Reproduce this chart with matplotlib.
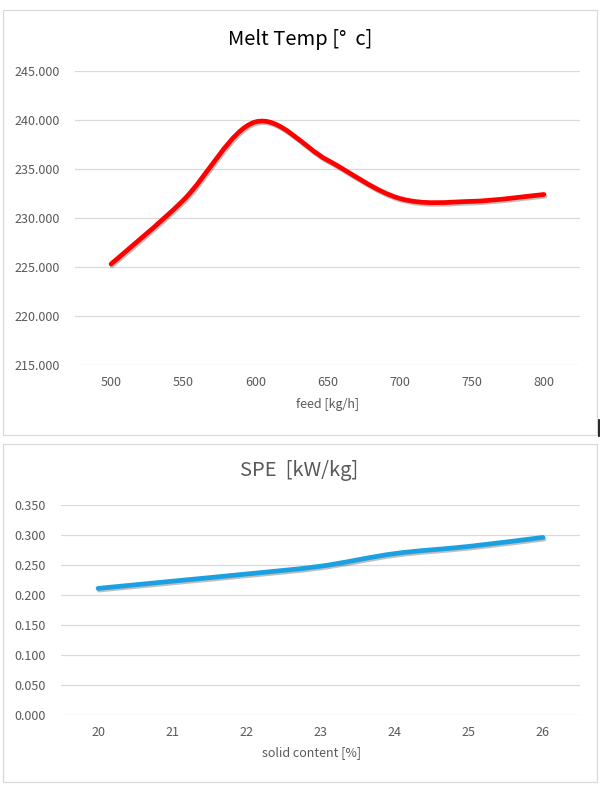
import matplotlib
matplotlib.use('Agg')
import matplotlib.pyplot as plt
import numpy as np
from matplotlib.path import Path
from matplotlib.patches import PathPatch, Rectangle
import matplotlib.patheffects as pe

plt.rcParams['font.family'] = ['Noto Sans CJK SC', 'DejaVu Sans']

# ---- data ----
feed_labels = ['500', '550', '600', '650', '700', '750', '800']
melt_temp = [225.3, 231.8, 239.8, 235.9, 232.0, 231.7, 232.4]
temp_ticks = [215, 220, 225, 230, 235, 240, 245]

solid_labels = ['20', '21', '22', '23', '24', '25', '26']
spe = [0.211, 0.223, 0.235, 0.248, 0.269, 0.281, 0.296]
spe_ticks = [0.0, 0.05, 0.10, 0.15, 0.20, 0.25, 0.30, 0.35]

GRAY = '#595959'
GRID = '#D9D9D9'
W, H = 600, 790


def smooth_path(ys):
    """Excel-like smoothed line: cubic Bezier through the data points."""
    xs = np.arange(len(ys), dtype=float)
    pts = np.column_stack([xs, np.asarray(ys, dtype=float)])
    n = len(pts)
    verts = [pts[0]]
    codes = [Path.MOVETO]
    for i in range(n - 1):
        p0 = pts[i - 1] if i > 0 else pts[i]
        p1 = pts[i]
        p2 = pts[i + 1]
        p3 = pts[i + 2] if i + 2 < n else pts[i + 1]
        c1 = p1 + (p2 - p0) / 6.0
        c2 = p2 - (p3 - p1) / 6.0
        verts += [c1, c2, p2]
        codes += [Path.CURVE4] * 3
    return Path(verts, codes)


def fx(px):
    return px / W


def fy(py):
    return 1 - py / H


fig = plt.figure(figsize=(6, 7.9), dpi=100)
fig.patch.set_facecolor('white')

# panel borders
fig.add_artist(Rectangle((fx(3), fy(435)), fx(597) - fx(3), fy(10) - fy(435),
                         transform=fig.transFigure, fill=False,
                         edgecolor=GRID, lw=0.9))
fig.add_artist(Rectangle((fx(3), fy(782)), fx(597) - fx(3), fy(444) - fy(782),
                         transform=fig.transFigure, fill=False,
                         edgecolor=GRID, lw=0.9))


def style_axes(ax, yticks, fmt, ypad):
    for s in ax.spines.values():
        s.set_visible(False)
    ax.set_yticks(yticks)
    ax.set_yticklabels([fmt.format(v) for v in yticks])
    ax.set_ylim(yticks[0], yticks[-1])
    ax.set_xlim(-0.5, 6.5)
    ax.set_xticks(range(7))
    ax.tick_params(axis='both', length=0, labelsize=9, colors=GRAY)
    ax.tick_params(axis='y', pad=ypad)
    ax.tick_params(axis='x', pad=8)
    ax.grid(axis='y', color=GRID, lw=0.9)
    ax.set_axisbelow(True)
    ax.set_facecolor('none')


# ---- top chart ----
ax1 = fig.add_axes([fx(75), fy(365), fx(580) - fx(75), fy(71) - fy(365)])
style_axes(ax1, temp_ticks, '{:.3f}', 11)
ax1.set_xticklabels(feed_labels)
p1 = PathPatch(smooth_path(melt_temp), fill=False, edgecolor='#FF0000',
               lw=3.4, capstyle='round', joinstyle='round',
               path_effects=[pe.SimpleLineShadow(offset=(0.8, -1.2), alpha=0.25,
                                                 shadow_color='black'),
                             pe.Normal()])
ax1.add_patch(p1)
fig.text(fx(300), fy(39), 'Melt Temp [°  c]', ha='center', va='center',
         fontsize=14.5, color='black')
fig.text(fx(328), fy(405), 'feed [kg/h]', ha='center', va='center',
         fontsize=9, color=GRAY)

# ---- bottom chart ----
ax2 = fig.add_axes([fx(61), fy(715), fx(580) - fx(61), fy(505) - fy(715)])
style_axes(ax2, spe_ticks, '{:.3f}', 11)
ax2.set_xticklabels(solid_labels)
p2 = PathPatch(smooth_path(spe), fill=False, edgecolor='#1BA1E2',
               lw=3.4, capstyle='round', joinstyle='round',
               path_effects=[pe.SimpleLineShadow(offset=(0.8, -1.2), alpha=0.25,
                                                 shadow_color='black'),
                             pe.Normal()])
ax2.add_patch(p2)
fig.text(fx(299), fy(471), 'SPE  [kW/kg]', ha='center', va='center',
         fontsize=14.5, color=GRAY)
fig.text(fx(312), fy(753), 'solid content [%]', ha='center', va='center',
         fontsize=9, color=GRAY)

# small dark mark at right edge of top panel
fig.add_artist(plt.Line2D([fx(598.5), fx(598.5)], [fy(436), fy(420)],
                          transform=fig.transFigure, color='black', lw=1.2))

fig.savefig('out.png', dpi=100, facecolor='white')
